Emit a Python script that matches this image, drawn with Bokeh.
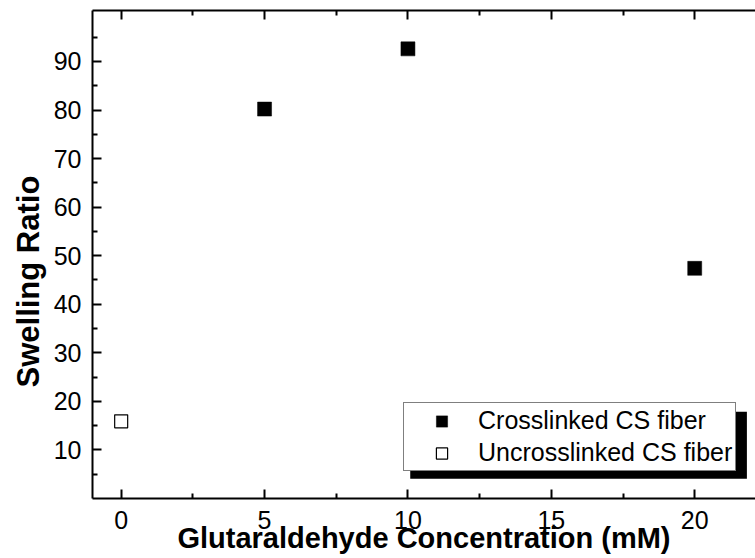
from bokeh.plotting import figure
from bokeh.models import (LinearAxis, FixedTicker, Legend, LegendItem, Title,
                          BoxAnnotation, Range1d)
from bokeh.embed import file_html
from bokeh.resources import INLINE

# Swelling ratio of chitosan (CS) fibers vs glutaraldehyde concentration
crosslinked_conc = [5, 10, 20]
crosslinked_ratio = [80.2, 92.6, 47.4]
uncrosslinked_conc = [0]
uncrosslinked_ratio = [15.9]

x_major = [0, 5, 10, 15, 20]
x_minor = [2.5, 7.5, 12.5, 17.5]
y_major = [10, 20, 30, 40, 50, 60, 70, 80, 90]
y_minor = [5, 15, 25, 35, 45, 55, 65, 75, 85, 95]

FONT = "Liberation Sans"

p = figure(width=755, height=558, output_backend="svg", toolbar_location=None,
           x_axis_type=None, y_axis_type=None,
           x_range=Range1d(-1.0, 22.12), y_range=Range1d(0, 100.5),
           min_border_left=92, min_border_right=0, min_border_top=10,
           min_border_bottom=60)
p.outline_line_color = None
p.xgrid.visible = False
p.ygrid.visible = False
p.background_fill_color = "white"
p.border_fill_color = "white"


def style_axis(ax, show_labels=True, standoff=12):
    ax.axis_line_width = 2
    ax.axis_line_color = "black"
    ax.major_tick_line_width = 2
    ax.minor_tick_line_width = 2
    ax.major_tick_in = 9
    ax.major_tick_out = 0
    ax.minor_tick_in = 5
    ax.minor_tick_out = 0
    ax.major_label_standoff = standoff
    ax.major_label_text_font = FONT
    ax.major_label_text_font_size = "25px"
    ax.major_label_text_color = "black" if show_labels else None


bottom = LinearAxis(ticker=FixedTicker(ticks=x_major, minor_ticks=x_minor))
style_axis(bottom, standoff=12)
bottom.axis_label = "Glutaraldehyde Concentration (mM)"
bottom.axis_label_text_font = FONT
bottom.axis_label_text_font_style = "bold"
bottom.axis_label_text_font_size = "29px"
bottom.axis_label_text_color = "black"
bottom.axis_label_standoff = -10
p.add_layout(bottom, "below")

top = LinearAxis(ticker=FixedTicker(ticks=x_major, minor_ticks=x_minor))
style_axis(top, show_labels=False, standoff=0)
top.major_label_text_font_size = "0px"
p.add_layout(top, "above")

left = LinearAxis(ticker=FixedTicker(ticks=y_major, minor_ticks=y_minor))
style_axis(left, standoff=11)
p.add_layout(left, "left")

# Y axis title, set a little below the frame's middle
ytitle = Title(text="Swelling Ratio", align="left", offset=111,
               text_font=FONT, text_font_style="bold", text_font_size="31px",
               text_color="black", standoff=10)
p.add_layout(ytitle, "left")

# Drop shadow behind the legend box
shadow = BoxAnnotation(left=10.08, right=21.82, top=17.87, bottom=4.08,
                       fill_color="black", fill_alpha=1.0, line_color=None)
p.add_layout(shadow)

r_cross = p.scatter(crosslinked_conc, crosslinked_ratio, marker="square", size=14,
                    fill_color="black", line_color="black", line_width=0.5)
r_uncross = p.scatter(uncrosslinked_conc, uncrosslinked_ratio, marker="square", size=13,
                      fill_color="white", line_color="black", line_width=1.2)

legend = Legend(items=[LegendItem(label="Crosslinked CS fiber", renderers=[r_cross]),
                       LegendItem(label="Uncrosslinked CS fiber", renderers=[r_uncross])],
                location=(311, 27), orientation="vertical")
legend.label_text_font = FONT
legend.label_text_font_size = "25px"
legend.label_text_color = "black"
legend.label_height = 28
legend.glyph_height = 28
legend.glyph_width = 69
legend.label_standoff = 2
legend.spacing = 3
legend.padding = 3
legend.margin = 0
legend.border_line_color = "black"
legend.border_line_width = 1
legend.background_fill_color = "white"
legend.background_fill_alpha = 1.0
p.add_layout(legend, "center")

open("out.html", "w").write(file_html(p, INLINE))
